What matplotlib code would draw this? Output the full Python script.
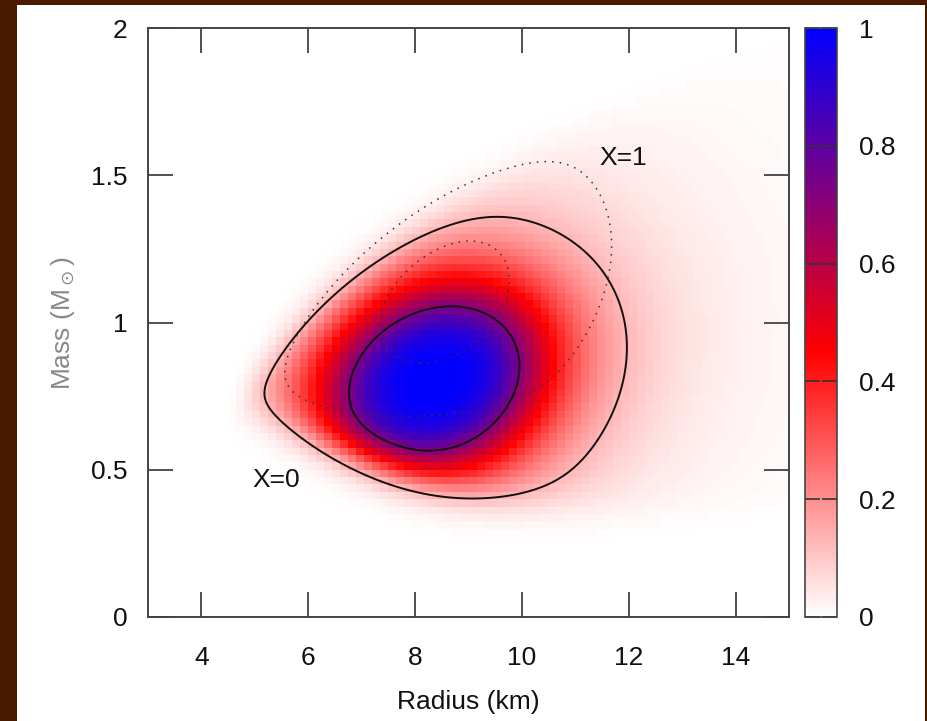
import numpy as np
import matplotlib
matplotlib.use("Agg")
import matplotlib.pyplot as plt
from matplotlib.colors import LinearSegmentedColormap
from matplotlib.patches import Rectangle

plt.rcParams['font.family'] = ['Liberation Sans', 'DejaVu Sans']
plt.rcParams['mathtext.fontset'] = 'dejavusans'

# axis ranges and ticks
r_lim = [3, 15]
m_lim = [0, 2]
r_ticks = [4, 6, 8, 10, 12, 14]
m_ticks = [0, 0.5, 1, 1.5, 2]
m_ticklabels = ['0', '0.5', '1', '1.5', '2']
cb_ticks = [0, 0.2, 0.4, 0.6, 0.8, 1]
cb_ticklabels = ['0', '0.2', '0.4', '0.6', '0.8', '1']

# palette stops: white -> red -> blue
pal_stops = [0.0, 0.45, 1.0]
pal_colors = ['#ffffff', '#ff0000', '#0000ff']

# heat map cells
n_r_cells = 80
n_m_cells = 80

# upper-left boundary of the allowed region: M = base + coef * sqrt(R - r0)
edge_base = 0.35
edge_coef = 0.498
edge_r0 = 4.2
edge_width = 0.05

# X=0 likelihood: centre (R, M), widths (R, M), correlation, profile power,
# lower cut (M level, slope per km on the small-R side, width)
x0_center = [8.35, 0.80]
x0_sigma = [2.1, 0.334]
x0_rho = 0.2
x0_power = 3.5
x0_lowcut = [0.33, -0.10, 0.045]

# X=1 likelihood
x1_center = [8.55, 1.07]
x1_sigma = [1.66, 0.29]
x1_rho = 0.35
x1_power = 3.0
x1_lowcut = [0.69, 0.0, 0.04]
x1_edge_shift = 0.03

# confidence contour levels (fraction of peak)
levels = [0.13, 0.72]


def likelihood(R, M, center, sigma, rho, power, lowcut, edge_shift=0.0):
    u = (R - center[0]) / sigma[0]
    v = (M - center[1]) / sigma[1]
    q = (u * u - 2 * rho * u * v + v * v) / (1 - rho * rho)
    core = 1 / (1 + q ** (power / 2))
    edge = edge_base + edge_shift + edge_coef * np.sqrt(np.clip(R - edge_r0, 0, None))
    upper = 1 / (1 + np.exp((M - edge) / edge_width))
    # lower boundary rises smoothly towards small radii
    x = R - 8.5
    m_low = lowcut[0] + lowcut[1] * 0.5 * (x - np.sqrt(x * x + 4.0))
    lower = 1 / (1 + np.exp(-(M - m_low) / lowcut[2]))
    f = core * upper * lower
    return f / f.max()


fig = plt.figure(figsize=(9.27, 7.21), dpi=100, facecolor='white')
# dark frame on the left, top and right
for x, y, w, h in [(0, 0, 17, 721), (0, 716, 927, 5), (925, 0, 2, 721)]:
    fig.patches.append(Rectangle((x / 927, y / 721), w / 927, h / 721,
                                 transform=fig.transFigure, facecolor='#4a1a00',
                                 edgecolor='none'))

ax = fig.add_axes([148 / 927, 104 / 721, 641 / 927, 589 / 721])
cax = fig.add_axes([805 / 927, 104 / 721, 32 / 927, 589 / 721])

cmap = LinearSegmentedColormap.from_list('wrb', list(zip(pal_stops, pal_colors)))

# coarse heat map
r_edges = np.linspace(r_lim[0], r_lim[1], n_r_cells + 1)
m_edges = np.linspace(m_lim[0], m_lim[1], n_m_cells + 1)
rc = 0.5 * (r_edges[1:] + r_edges[:-1])
mc = 0.5 * (m_edges[1:] + m_edges[:-1])
RC, MC = np.meshgrid(rc, mc)
heat = likelihood(RC, MC, x0_center, x0_sigma, x0_rho, x0_power, x0_lowcut)
mesh = ax.pcolormesh(r_edges, m_edges, heat, cmap=cmap, vmin=0, vmax=1,
                     shading='flat', rasterized=True)

# fine grid for the contours
rf = np.linspace(r_lim[0], r_lim[1], 600)
mf = np.linspace(m_lim[0], m_lim[1], 500)
RF, MF = np.meshgrid(rf, mf)
f0 = likelihood(RF, MF, x0_center, x0_sigma, x0_rho, x0_power, x0_lowcut)
f1 = likelihood(RF, MF, x1_center, x1_sigma, x1_rho, x1_power, x1_lowcut,
                x1_edge_shift)
ax.contour(RF, MF, f0, levels=levels, colors='#111111', linewidths=1.4)
ax.contour(RF, MF, f1, levels=levels, colors='#333333', linewidths=1.1,
           linestyles=[(0, (1, 4))])

ax.text(11.9, 1.56, 'X=1', fontsize=19, ha='center', va='center', color='#111111')
ax.text(5.4, 0.465, 'X=0', fontsize=19, ha='center', va='center', color='#111111')

ax.set_xlim(r_lim)
ax.set_ylim(m_lim)
ax.set_xticks(r_ticks)
ax.set_yticks(m_ticks)
ax.set_yticklabels(m_ticklabels)
ax.tick_params(direction='in', length=18, width=1.2, top=True, right=True,
               labelsize=19, colors='#333333', labelcolor='#111111')
ax.tick_params(axis='x', pad=21)
ax.tick_params(axis='y', pad=15)
for s in ax.spines.values():
    s.set_linewidth(1.4)
    s.set_color('#444444')
ax.set_xlabel('Radius (km)', fontsize=19, color='#111111', labelpad=14)
ax.set_ylabel(r'Mass (M$_\odot$)', fontsize=19, color='#888888', labelpad=10)

cb = fig.colorbar(mesh, cax=cax)
cb.set_ticks(cb_ticks)
cb.set_ticklabels(cb_ticklabels)
cb.outline.set_linewidth(1.2)
cb.outline.set_edgecolor('#444444')
cax.tick_params(direction='in', length=11, width=1.2, left=True, right=True,
                labelsize=19, pad=16, colors='#333333', labelcolor='#111111')

fig.savefig('out.png', dpi=100, facecolor=fig.get_facecolor())
